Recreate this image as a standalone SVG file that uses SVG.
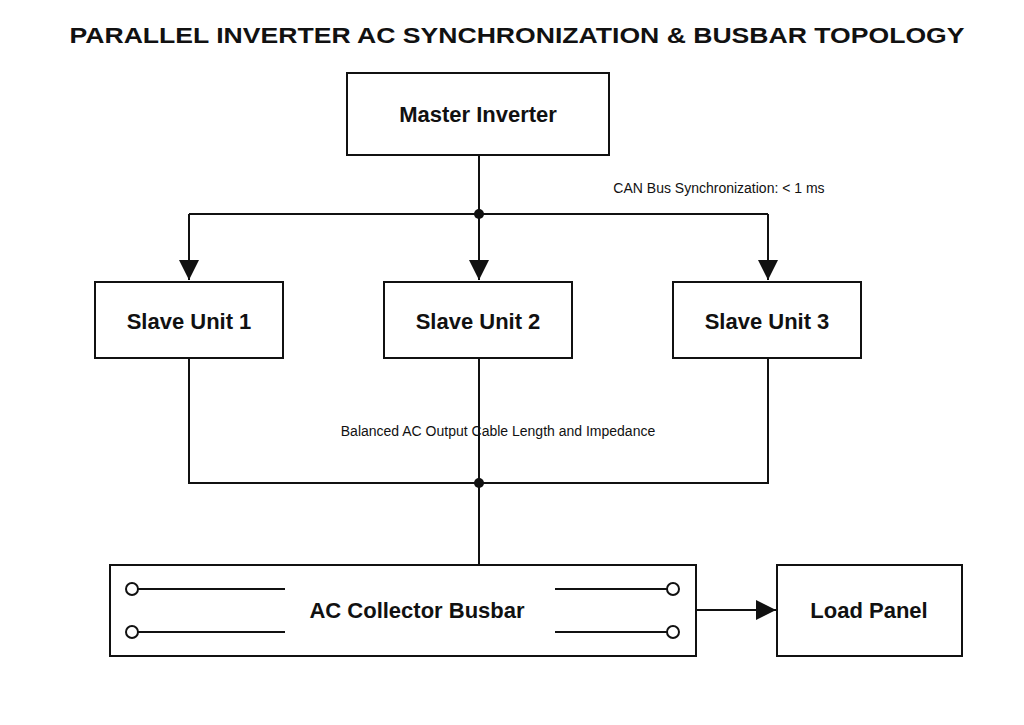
<svg xmlns="http://www.w3.org/2000/svg" width="1024" height="725" viewBox="0 0 1024 725">
<style>
.box{fill:#fff;stroke:#111;stroke-width:2}
.ln{fill:none;stroke:#111;stroke-width:2}
.t{font-family:"Liberation Sans",Arial,sans-serif;font-size:22px;font-weight:bold;fill:#111;text-anchor:middle}
.s{font-family:"Liberation Sans",Arial,sans-serif;font-size:14px;fill:#111;text-anchor:middle}
.ter{fill:#fff;stroke:#111;stroke-width:2}
</style>
<defs><marker id="b" markerWidth="20" markerHeight="20" refX="20" refY="10" orient="auto" markerUnits="userSpaceOnUse" viewBox="0 0 20 20"><path d="M0,0L20,10L0,20z" fill="#111"/></marker></defs>
<rect width="1024" height="725" fill="#fff"/>
<text x="517" y="43" class="t" font-size="27" textLength="895" lengthAdjust="spacingAndGlyphs">PARALLEL INVERTER AC SYNCHRONIZATION &amp; BUSBAR TOPOLOGY</text>
<g id="connectors">
<path class="ln" d="M479,155V214"/>
<path class="ln" d="M189,214H768"/>
<path class="ln" d="M189,214V280" marker-end="url(#b)"/>
<path class="ln" d="M479,214V280" marker-end="url(#b)"/>
<path class="ln" d="M768,214V280" marker-end="url(#b)"/>
<circle cx="479" cy="214" r="5" fill="#111"/>
<path class="ln" d="M189,358V483H768V358"/>
<path class="ln" d="M479,358V565"/>
<circle cx="479" cy="483" r="5" fill="#111"/>
<path class="ln" d="M696,610H776" marker-end="url(#b)"/>
<text x="719" y="193" class="s">CAN Bus Synchronization: &lt; 1 ms</text>
<text x="498" y="436" class="s">Balanced AC Output Cable Length and Impedance</text>
</g>
<g id="master"><rect class="box" x="347" y="73" width="262" height="82"/><text x="478" y="122" class="t">Master Inverter</text></g>
<g id="slave1"><rect class="box" x="95" y="282" width="188" height="76"/><text x="189" y="329" class="t">Slave Unit 1</text></g>
<g id="slave2"><rect class="box" x="384" y="282" width="188" height="76"/><text x="478" y="329" class="t">Slave Unit 2</text></g>
<g id="slave3"><rect class="box" x="673" y="282" width="188" height="76"/><text x="767" y="329" class="t">Slave Unit 3</text></g>
<g id="busbar"><rect class="box" x="110" y="565" width="586" height="91"/>
<path class="ln" d="M138,589H285M138,632H285M555,589H667M555,632H667"/>
<circle class="ter" cx="132" cy="589" r="6"/><circle class="ter" cx="132" cy="632" r="6"/>
<circle class="ter" cx="673" cy="589" r="6"/><circle class="ter" cx="673" cy="632" r="6"/>
<text x="417" y="618" class="t">AC Collector Busbar</text></g>
<g id="load"><rect class="box" x="777" y="565" width="185" height="91"/><text x="869" y="618" class="t">Load Panel</text></g>
</svg>
